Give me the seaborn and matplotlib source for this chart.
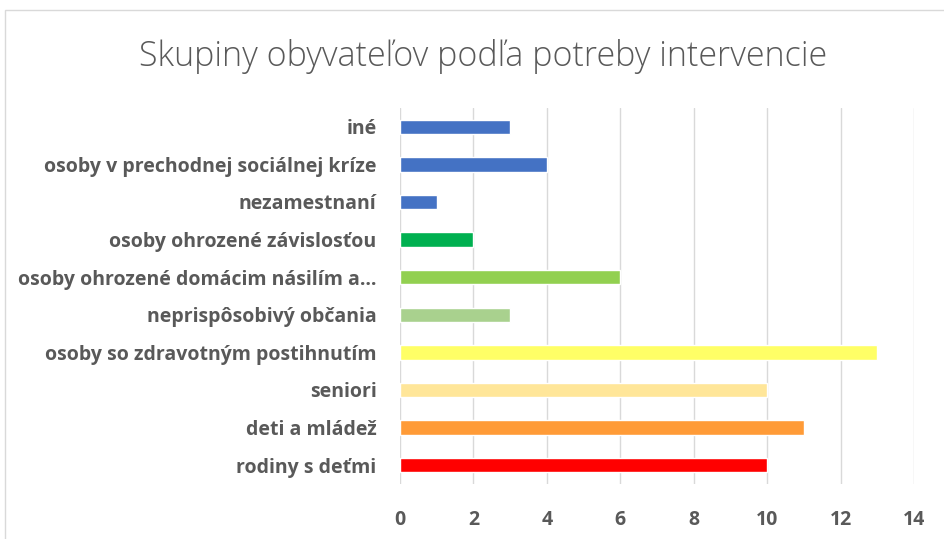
import matplotlib.pyplot as plt
import seaborn as sns
import pandas as pd
from matplotlib.patches import Rectangle

# Data (top to bottom as in the chart)
categories = ["iné", "osoby v prechodnej sociálnej kríze", "nezamestnaní",
              "osoby ohrozené závislosťou", "osoby ohrozené domácim násilím a…",
              "neprispôsobivý občania", "osoby so zdravotným postihnutím",
              "seniori", "deti a mládež", "rodiny s deťmi"]
values = [3, 4, 1, 2, 6, 3, 13, 10, 11, 10]
colors = ["#4472C4", "#4472C4", "#4472C4", "#00B050", "#92D050",
          "#A9D18E", "#FFFF66", "#FFE699", "#FF9B37", "#FF0000"]
xticks = [0, 2, 4, 6, 8, 10, 12, 14]

df = pd.DataFrame({"group": categories, "count": values})

sns.set_theme(style="white")
plt.rcParams['font.family'] = ['Open Sans', 'DejaVu Sans']

fig = plt.figure(figsize=(9.44, 5.39), dpi=100)
ax = fig.add_axes([400 / 944, 1 - 484 / 539, 514 / 944, (484 - 108) / 539])

sns.barplot(data=df, x="count", y="group", hue="group", palette=colors,
            saturation=1, legend=False, orient="h", width=0.38, ax=ax)

ax.set_xlim(0, 14)
ax.set_xticks(xticks)
ax.set_xlabel("")
ax.set_ylabel("")
ax.grid(axis="x", color="#D9D9D9", linewidth=1)
ax.set_axisbelow(True)
for s in ax.spines.values():
    s.set_visible(False)
ax.tick_params(axis="both", length=0, labelsize=14, labelcolor="#595959")
ax.tick_params(axis="y", pad=17)
ax.tick_params(axis="x", pad=19)
for lab in ax.get_xticklabels() + ax.get_yticklabels():
    lab.set_fontweight("bold")

fig.text(483 / 944, 1 - 57 / 539, "Skupiny obyvateľov podľa potreby intervencie",
         ha="center", va="center", fontsize=24.5, color="#595959", fontweight="light")

# chart border
fig.patches.append(Rectangle((5 / 944, -0.01), 1.0, 1 - 10 / 539 + 0.01,
                             transform=fig.transFigure, fill=False,
                             edgecolor="#D9D9D9", linewidth=1))

fig.savefig("out.png", dpi=100)
